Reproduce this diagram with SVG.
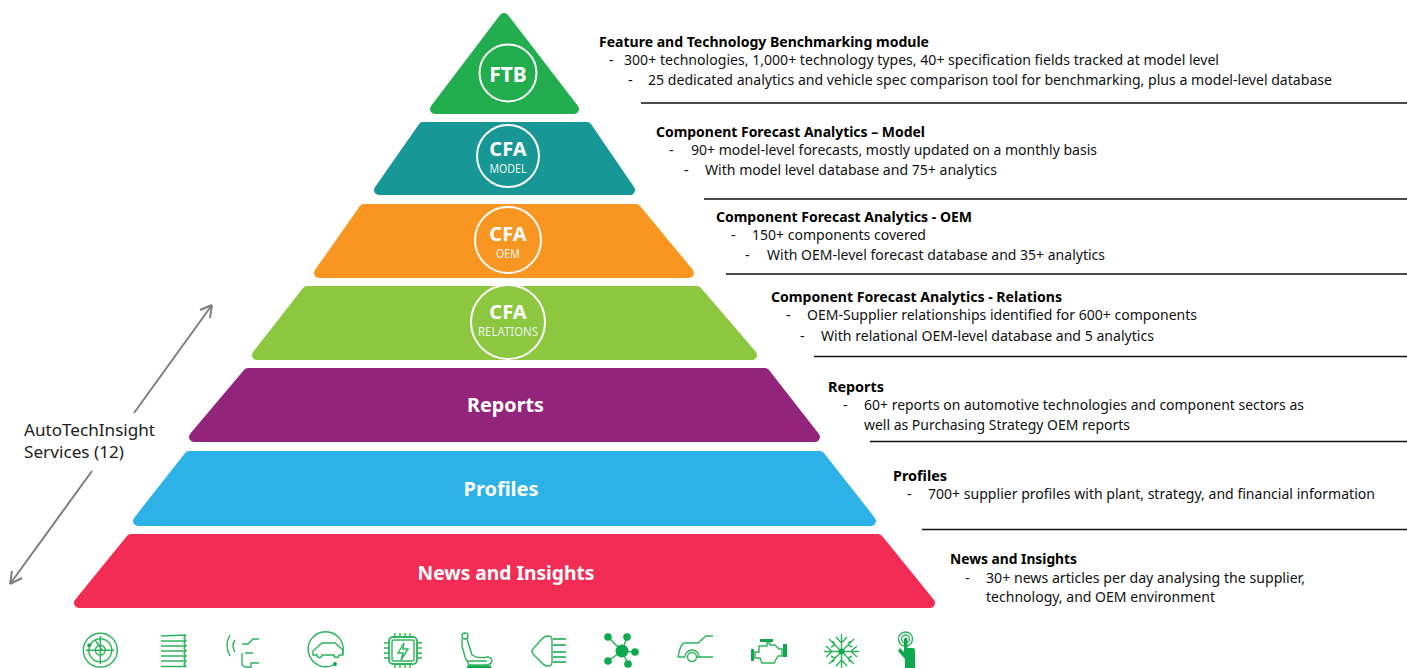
<svg xmlns="http://www.w3.org/2000/svg" width="1407" height="668" viewBox="0 0 1407 668">
<style>
text{font-family:"Noto Sans","Open Sans","Liberation Sans",sans-serif}
.t{font-size:14.5px;fill:#111}
.h{font-size:14.5px;font-weight:700;fill:#000}
.w{fill:#fff;font-weight:700;text-anchor:middle}
.s{fill:#e6f4ea;font-size:12px;text-anchor:middle}
.c{fill:none;stroke:#fff;stroke-width:2}
.r{stroke-width:10;stroke-linejoin:round}
.ln{stroke:#111;stroke-width:1.3}
.i{fill:none;stroke:#2bb55a;stroke-width:1.4}
.f{fill:#0fa84e;stroke:none}
.ar{fill:none;stroke:#7f7f7f;stroke-width:2}
</style>
<g id="node-ftb"><path class="r" fill="#22ad4e" stroke="#22ad4e" d="M504 18 L574 109 L435 109 Z"/><circle class="c" cx="508" cy="73" r="28.5"/><text class="w" x="508" y="82" font-size="21">FTB</text></g>
<g id="node-cfa-model"><path class="r" fill="#189797" stroke="#189797" d="M423 127 L587 127 L630 190 L379 190 Z"/><circle class="c" cx="508" cy="156" r="31"/><text class="w" x="508" y="156" font-size="20">CFA</text><text class="s" x="508" y="173" textLength="37" lengthAdjust="spacingAndGlyphs">MODEL</text></g>
<g id="node-cfa-oem"><path class="r" fill="#f99622" stroke="#f99622" d="M364 209 L636 209 L689 273 L319 273 Z"/><circle class="c" cx="508" cy="240" r="33"/><text class="w" x="508" y="241" font-size="20">CFA</text><text class="s" x="508" y="258" textLength="24" lengthAdjust="spacingAndGlyphs">OEM</text></g>
<g id="node-cfa-relations"><path class="r" fill="#8dc63f" stroke="#8dc63f" d="M307 291 L697 291 L752 355 L257 355 Z"/><circle class="c" cx="508" cy="322" r="37"/><text class="w" x="508" y="319" font-size="20">CFA</text><text class="s" x="508" y="336" textLength="60" lengthAdjust="spacingAndGlyphs">RELATIONS</text></g>
<g id="node-reports"><path class="r" fill="#93247c" stroke="#93247c" d="M248 373 L765 373 L815 437 L194 437 Z"/><text class="w" x="505.500" y="412" font-size="20" textLength="77" lengthAdjust="spacingAndGlyphs">Reports</text></g>
<g id="node-profiles"><path class="r" fill="#2db2e8" stroke="#2db2e8" d="M189 456 L820 456 L871 521 L138 521 Z"/><text class="w" x="501" y="496" font-size="20" textLength="75" lengthAdjust="spacingAndGlyphs">Profiles</text></g>
<g id="node-news"><path class="r" fill="#f22c54" stroke="#f22c54" d="M131 539 L878 539 L930 603 L79 603 Z"/><text class="w" x="506" y="580" font-size="20" textLength="177" lengthAdjust="spacingAndGlyphs">News and Insights</text></g>
<g id="connectors">
<path class="ar" d="M134 413 L212 305 M212 305 L200 310 M212 305 L210 318"/>
<path class="ar" d="M92 471 L10 584 M10 584 L22 578 M10 584 L12 571"/>
</g>
<g id="rules">
<path class="ln" d="M641 103H1407M704 199H1407M726 274H1407M814 356.500H1407M870 441.500H1407M922 529.500H1407"/>
</g>
<g id="label-services"><text x="24" y="436" font-size="17" fill="#222" textLength="131" lengthAdjust="spacingAndGlyphs">AutoTechInsight</text><text x="24" y="458" font-size="17" fill="#222" textLength="100" lengthAdjust="spacingAndGlyphs">Services (12)</text></g>
<g id="text-ftb">
<text class="h" x="599" y="47" textLength="330" lengthAdjust="spacingAndGlyphs">Feature and Technology Benchmarking module</text>
<text class="t" x="609" y="65">-</text><text class="t" x="624" y="65" textLength="595" lengthAdjust="spacingAndGlyphs">300+ technologies, 1,000+ technology types, 40+ specification fields tracked at model level</text>
<text class="t" x="628" y="85">-</text><text class="t" x="648" y="85" textLength="684" lengthAdjust="spacingAndGlyphs">25 dedicated analytics and vehicle spec comparison tool for benchmarking, plus a model-level database</text>
</g>
<g id="text-model">
<text class="h" x="656" y="137" textLength="269" lengthAdjust="spacingAndGlyphs">Component Forecast Analytics – Model</text>
<text class="t" x="669" y="155">-</text><text class="t" x="691" y="155" textLength="406" lengthAdjust="spacingAndGlyphs">90+ model-level forecasts, mostly updated on a monthly basis</text>
<text class="t" x="684" y="175">-</text><text class="t" x="705" y="175" textLength="292" lengthAdjust="spacingAndGlyphs">With model level database and 75+ analytics</text>
</g>
<g id="text-oem">
<text class="h" x="716" y="222" textLength="256" lengthAdjust="spacingAndGlyphs">Component Forecast Analytics - OEM</text>
<text class="t" x="731" y="240">-</text><text class="t" x="752" y="240" textLength="174" lengthAdjust="spacingAndGlyphs">150+ components covered</text>
<text class="t" x="745" y="260">-</text><text class="t" x="767" y="260" textLength="338" lengthAdjust="spacingAndGlyphs">With OEM-level forecast database and 35+ analytics</text>
</g>
<g id="text-relations">
<text class="h" x="771" y="302" textLength="291" lengthAdjust="spacingAndGlyphs">Component Forecast Analytics - Relations</text>
<text class="t" x="786" y="320">-</text><text class="t" x="807" y="320" textLength="390" lengthAdjust="spacingAndGlyphs">OEM-Supplier relationships identified for 600+ components</text>
<text class="t" x="800" y="341">-</text><text class="t" x="821" y="341" textLength="333" lengthAdjust="spacingAndGlyphs">With relational OEM-level database and 5 analytics</text>
</g>
<g id="text-reports">
<text class="h" x="828" y="392" textLength="56" lengthAdjust="spacingAndGlyphs">Reports</text>
<text class="t" x="843" y="410">-</text><text class="t" x="864" y="410" textLength="440" lengthAdjust="spacingAndGlyphs">60+ reports on automotive technologies and component sectors as</text>
<text class="t" x="864" y="430" textLength="266" lengthAdjust="spacingAndGlyphs">well as Purchasing Strategy OEM reports</text>
</g>
<g id="text-profiles">
<text class="h" x="893" y="481" textLength="54" lengthAdjust="spacingAndGlyphs">Profiles</text>
<text class="t" x="907" y="499">-</text><text class="t" x="928" y="499" textLength="447" lengthAdjust="spacingAndGlyphs">700+ supplier profiles with plant, strategy, and financial information</text>
</g>
<g id="text-news">
<text class="h" x="950" y="564" textLength="127" lengthAdjust="spacingAndGlyphs">News and Insights</text>
<text class="t" x="965" y="583">-</text><text class="t" x="986" y="583" textLength="319" lengthAdjust="spacingAndGlyphs">30+ news articles per day analysing the supplier,</text>
<text class="t" x="986" y="602" textLength="229" lengthAdjust="spacingAndGlyphs">technology, and OEM environment</text>
</g>
<g id="icons">
<g id="icon-radar" class="i"><circle cx="100.300" cy="650.300" r="17"/><circle cx="100.300" cy="650.300" r="11.500"/><circle cx="100.300" cy="650.300" r="5"/><path d="M100.300 636V664M86 650.300H114M95 640L103 651"/><circle class="f" cx="89.300" cy="645.300" r="2"/></g>
<g id="icon-spring" class="i"><path d="M161 636L186 635M161 641H186M161 646H186M161 651H186M161 656H186M161 661H186M161 666.500H186M186 635L184 638L186 641L184 643L186 646L184 648L186 651L184 653L186 656L184 658L186 661L184 664L186 667"/></g>
<g id="icon-sensor" class="i"><path d="M230 635Q224 645 230 656M235 640Q231 646 235 652M242 644H248L253 639H259M245 653H253M242 653V665L245 667H251V663H259"/></g>
<g id="icon-ev" class="i"><path d="M342.500 654A17.500 17.500 0 1 0 335 664"/><path d="M313 651L322 643H335L343 650V655H339A2.500 2.500 0 0 1 334 655H322A2.500 2.500 0 0 1 317 655H313Z"/><circle class="f" cx="335" cy="664" r="2"/></g>
<g id="icon-chip" class="i"><rect x="389" y="637" width="28" height="27" rx="4" stroke-width="1.800"/><rect x="392" y="640" width="22" height="21" rx="2"/><path d="M404 643L398 653H403L401 660L408 649H403Z"/><path d="M395 633V637M400 633V637M405 633V637M410 633V637M395 664V668M400 664V668M405 664V668M410 664V668M384 643H389M384 648H389M384 653H389M384 658H389M417 643H422M417 648H422M417 653H422M417 658H422"/></g>
<g id="icon-seat" class="i"><circle cx="465" cy="636" r="3"/><path d="M462 639V646L465 657L467 661H487M467 639L472 655Q478 659 488 657Q492 658 492 661Q491 665 485 665H469L467 661"/><rect class="f" x="467" y="665.500" width="24" height="2.500"/></g>
<g id="icon-headlight" class="i"><path d="M548 636Q552 636 552 640V662Q552 666 548 666Q544 666 540 661L533 654Q531 651 533 649L540 641Q544 636 548 636Z"/><path d="M553 639H566M553 645H566M553 652H566M553 657H566M553 662H566" stroke="#0fa84e"/></g>
<g id="icon-network"><path d="M622 651L608 637M622 651L627 637M622 651L635 652M622 651L608 661M622 651L628 664" stroke="#2bb55a" stroke-width="1.500" fill="none"/><circle class="f" cx="622" cy="651" r="6.500"/><circle class="f" cx="608" cy="637" r="3.800"/><circle class="f" cx="627" cy="637" r="3.800"/><circle class="f" cx="635" cy="652" r="3.800"/><circle class="f" cx="608" cy="661" r="3.800"/><circle class="f" cx="628" cy="664" r="3.800"/></g>
<g id="icon-car" class="i"><path d="M713 636H706L698 643H684Q680 645 678 657H685M697 657H713"/><circle cx="692" cy="657" r="4.500"/><path d="M685 657A7 7 0 0 1 699 657"/></g>
<g id="icon-engine"><path class="f" d="M760 639H773V642H760ZM751 649H754V661H751ZM783 644H787V657H783Z"/><path class="i" d="M755 652H759V646H767V643H770V645H775L779 649H782V656H778L774 663H762L760 658H755Z"/></g>
<g id="icon-snow" class="i"><path d="M841.500 634V668M824 651.500H859M829 639L854 664M854 639L829 664M836 637L841.500 643L847 637M836 666L841.500 660L847 666M826 646L832 651.500L826 657M857 646L851 651.500L857 657M831 647L835 645L833 641M852 647L848 645L850 641M831 656L835 658L833 662M852 656L848 658L850 662"/><circle class="f" cx="841.500" cy="651.500" r="3"/></g>
<g id="icon-touch"><circle class="i" cx="905.500" cy="639" r="7"/><circle class="i" cx="905.500" cy="639" r="4"/><path class="f" d="M904 639Q905.500 636 907.500 639V648H913Q915 648 915 651V668H905V659L898 651L900 648L904 652Z"/></g>
</g>
</svg>
